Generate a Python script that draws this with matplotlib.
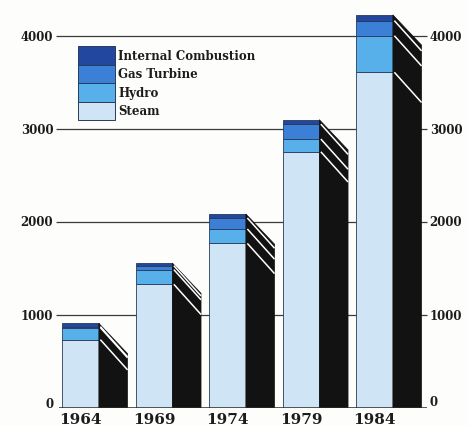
import matplotlib
matplotlib.use('Agg')
import matplotlib.pyplot as plt
from matplotlib.patches import Polygon, Rectangle
import numpy as np

# Generating capacity by plant type (MW)
years = ['1964', '1969', '1974', '1979', '1984']
steam = [735, 1330, 1770, 2755, 3610]
hydro = [130, 158, 155, 137, 393]
gas_turbine = [10, 42, 118, 160, 162]
internal_combustion = [35, 28, 43, 48, 62]

series_names = ['Steam', 'Hydro', 'Gas Turbine', 'Internal Combustion']
series_values = [steam, hydro, gas_turbine, internal_combustion]
series_colors = ['#cfe4f4', '#58b0ea', '#3b7fd6', '#22479e']
tick_values = [0, 1000, 2000, 3000, 4000]

W, H = 468, 427
FONT = dict(family='DejaVu Serif', fontweight='bold', color='#1c1c1c')

fig = plt.figure(figsize=(W / 100, H / 100), dpi=100)
fig.patch.set_facecolor('#fdfdfb')
ax = fig.add_axes([0, 18 / H, 1, 409.2 / H])
ax.set_xlim(-1.095, 5.272)
ax.set_ylim(0, 4400)
ax.axis('off')

x = np.arange(len(years))
FRONT_W = 0.5
SIDE_W = 0.39
DROP = 325

# horizontal rules behind the columns
for t in tick_values[1:]:
    ax.plot([-0.333, 4.71], [t, t], color='#3a3a3a', lw=0.9, zorder=1,
            solid_capstyle='butt')
ax.plot([-0.29, 4.71], [0, 0], color='#2a2a2a', lw=1.1, zorder=5,
        solid_capstyle='butt')

# value labels on both sides
for t in tick_values:
    yl = t if t else 45
    ax.text(-0.37, yl, f'{t}', ha='right', va='center', fontsize=8.5, **FONT)
    yr = t if t else 65
    ax.text(4.75, yr, f'{t}', ha='left', va='center', fontsize=8.5, **FONT)

# front faces: stacked segments
bottom = np.zeros(len(years))
for vals, color in zip(series_values, series_colors):
    ax.bar(x, vals, width=FRONT_W, bottom=bottom, color=color,
           edgecolor='#2b3a5a', linewidth=0.6, zorder=3)
    bottom = bottom + np.array(vals)
totals = bottom

# dark side faces with white segment dividers
cum = np.cumsum(np.vstack([np.zeros(len(years))] + [np.array(v) for v in series_values]), axis=0)
for i in range(len(years)):
    x1 = x[i] + FRONT_W / 2
    x2 = x1 + SIDE_W
    top = totals[i]
    side = Polygon([(x1, top), (x2, top - DROP), (x2, 0), (x1, 0)],
                   closed=True, facecolor='#121212', edgecolor='#121212',
                   lw=0.5, zorder=3)
    ax.add_patch(side)
    for b in cum[1:-1, i]:
        ax.plot([x1 + 0.02, x2], [b, b - DROP], color='white', lw=1.1,
                zorder=4, solid_capstyle='butt')

# year labels
for i, yr in enumerate(years):
    ax.text(x[i], -120, yr, ha='center', va='center', fontsize=11,
            clip_on=False, **FONT)

# key
def px(xp, yp):
    return (xp / W, 1 - yp / H)

row_h = 18.5
key_top = 47
for k, (name, color) in enumerate(zip(series_names[::-1], series_colors[::-1])):
    y_top = key_top + k * row_h
    fig.add_artist(Rectangle(px(78, y_top + row_h), 37 / W, row_h / H,
                             transform=fig.transFigure, facecolor=color,
                             edgecolor='#2b3a5a', lw=0.7))
    fig.text(*px(118, y_top + row_h / 2), name, ha='left', va='center',
             fontsize=8.5, **FONT)

fig.savefig('out.png', dpi=100, facecolor=fig.get_facecolor())
